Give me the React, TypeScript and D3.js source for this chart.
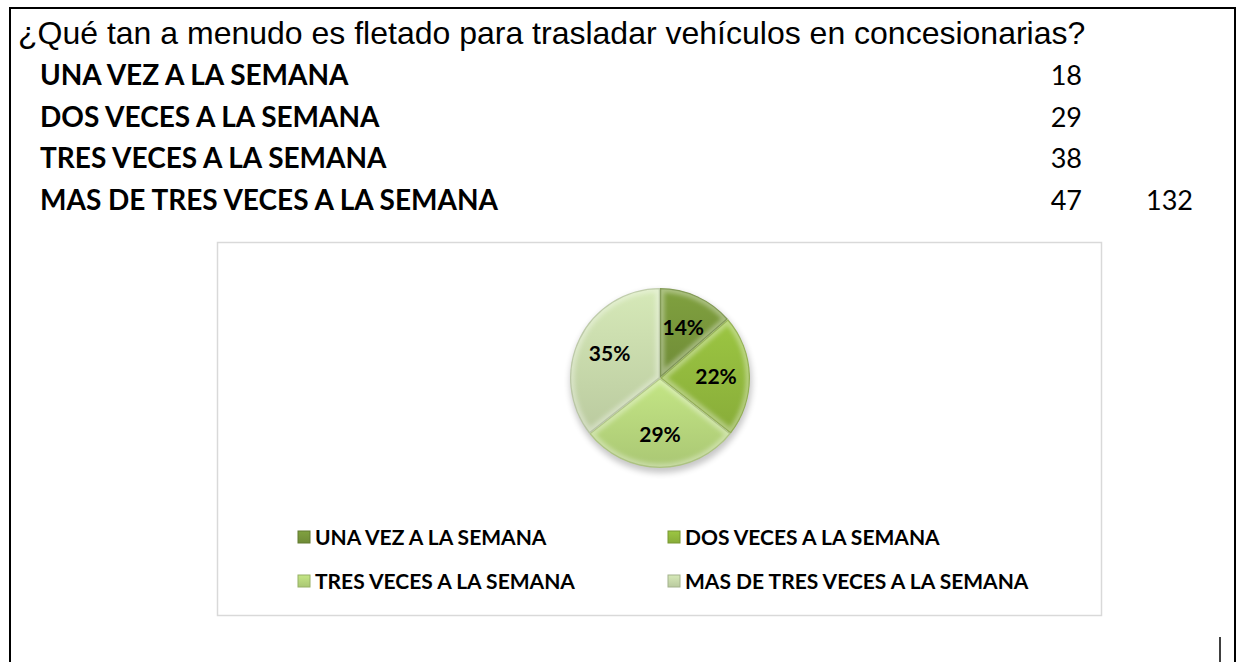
import React, { useEffect, useRef } from "react";
import * as d3 from "d3";

const title = "¿Qué tan a menudo es fletado para trasladar vehículos en concesionarias?";
const categories = [
  "UNA VEZ A LA SEMANA",
  "DOS VECES A LA SEMANA",
  "TRES VECES A LA SEMANA",
  "MAS DE TRES VECES A LA SEMANA",
];
const counts = [18, 29, 38, 47];
const total = 132;
const pctLabels = ["14%", "22%", "29%", "35%"];
const colors = ["#75933a", "#8fb53c", "#b3d27a", "#c4d5a8"];

const App = () => {
  const svgRef = useRef<SVGSVGElement>(null);

  useEffect(() => {
    const svg = d3.select(svgRef.current);
    svg.selectAll("*").remove();

    const width = 1243;
    const height = 662;
    const calibri = "Lato, 'Open Sans', sans-serif";

    svg.attr("width", width).attr("height", height).attr("viewBox", [0, 0, width, height]);

    const defs = svg.append("defs");
    defs.append("filter").attr("id", "soft").attr("x", "-20%").attr("y", "-20%").attr("width", "140%").attr("height", "140%")
      .append("feGaussianBlur").attr("stdDeviation", 2.2);
    defs.append("filter").attr("id", "shadow").attr("x", "-20%").attr("y", "-20%").attr("width", "140%").attr("height", "140%")
      .append("feGaussianBlur").attr("stdDeviation", 3);

    // page border (document frame)
    svg.append("path")
      .attr("d", "M10,662 V8 H1235 V662")
      .attr("fill", "none")
      .attr("stroke", "#000")
      .attr("stroke-width", 2);
    // text cursor
    svg.append("line").attr("x1", 1220).attr("x2", 1220).attr("y1", 637).attr("y2", 662)
      .attr("stroke", "#000").attr("stroke-width", 1.5);

    svg.append("text")
      .attr("x", 18).attr("y", 44)
      .attr("font-family", "'Liberation Sans', Arial, sans-serif")
      .attr("font-size", 32)
      .attr("fill", "#000")
      .text(title);

    // header table
    const rowY = d3.scalePoint<number>().domain(d3.range(categories.length)).range([85, 210]);
    const table = svg.append("g").attr("font-family", calibri).attr("fill", "#000");
    table.selectAll("text.cat").data(categories).join("text")
      .attr("class", "cat")
      .attr("x", 40).attr("y", (_, i) => rowY(i)!)
      .attr("font-size", 28).attr("font-weight", 700)
      .text(d => d);
    table.selectAll("text.val").data(counts).join("text")
      .attr("class", "val")
      .attr("x", 1082).attr("y", (_, i) => rowY(i)!)
      .attr("text-anchor", "end")
      .attr("font-size", 27)
      .text(d => d);
    table.append("text")
      .attr("x", 1193).attr("y", rowY(3)!)
      .attr("text-anchor", "end")
      .attr("font-size", 27)
      .text(total);

    // chart area
    svg.append("rect")
      .attr("x", 217.5).attr("y", 242.5).attr("width", 884).attr("height", 373)
      .attr("fill", "#fff").attr("stroke", "#d9d9d9").attr("stroke-width", 1.5);

    const cx = 660, cy = 378, r = 90;
    const pie = d3.pie<number>().sort(null).value(d => d);
    const arcs = pie(counts);
    const arc = d3.arc<d3.PieArcDatum<number>>().innerRadius(0).outerRadius(r);
    const labelArc = d3.arc<d3.PieArcDatum<number>>().innerRadius(56).outerRadius(56);

    const g = svg.append("g").attr("transform", `translate(${cx},${cy})`);
    g.append("circle").attr("cx", 1).attr("cy", 4).attr("r", r + 1)
      .attr("fill", "#000").attr("opacity", 0.22).attr("filter", "url(#shadow)");

    arcs.forEach((a, i) => {
      defs.append("clipPath").attr("id", `slice-${i}`)
        .append("path").attr("d", arc(a)!);
      const grad = defs.append("linearGradient").attr("id", `grad-${i}`)
        .attr("x1", 0).attr("y1", 0).attr("x2", 0).attr("y2", 1);
      grad.append("stop").attr("offset", 0).attr("stop-color", d3.color(colors[i])!.brighter(0.25).formatHex());
      grad.append("stop").attr("offset", 1).attr("stop-color", d3.color(colors[i])!.darker(0.15).formatHex());

      const sg = g.append("g").attr("clip-path", `url(#slice-${i})`);
      sg.append("path").attr("d", arc(a)!).attr("fill", `url(#grad-${i})`);
      // bevel highlight and edge shading
      sg.append("path").attr("d", arc(a)!)
        .attr("fill", "none").attr("stroke", "#fff").attr("stroke-opacity", 0.35)
        .attr("stroke-width", 9).attr("filter", "url(#soft)");
      sg.append("path").attr("d", arc(a)!)
        .attr("fill", "none").attr("stroke", d3.color(colors[i])!.darker(0.6).formatHex())
        .attr("stroke-opacity", 0.5).attr("stroke-width", 2.5);
    });

    g.selectAll("text.pct").data(arcs).join("text")
      .attr("class", "pct")
      .attr("transform", d => `translate(${labelArc.centroid(d)})`)
      .attr("text-anchor", "middle").attr("dy", "0.36em")
      .attr("font-family", calibri).attr("font-weight", 700).attr("font-size", 21)
      .attr("fill", "#000")
      .text((_, i) => pctLabels[i]);

    // legend
    const legX = d3.scalePoint<number>().domain([0, 1]).range([298, 668]);
    const legY = d3.scalePoint<number>().domain([0, 1]).range([537, 581]);
    const leg = svg.append("g").selectAll("g").data(categories).join("g")
      .attr("transform", (_, i) => `translate(${legX(i % 2)},${legY(Math.floor(i / 2))})`);
    leg.append("rect").attr("x", 0).attr("y", -6).attr("width", 12).attr("height", 12)
      .attr("fill", (_, i) => `url(#grad-${i})`)
      .attr("stroke", (_, i) => d3.color(colors[i])!.darker(0.5).formatHex()).attr("stroke-width", 1);
    leg.append("text").attr("x", 17).attr("dy", "0.36em")
      .attr("font-family", calibri).attr("font-weight", 700).attr("font-size", 21)
      .attr("fill", "#000")
      .text(d => d);
  }, []);

  return <svg ref={svgRef} style={{ position: "absolute", left: 0, top: 0 }} />;
};

export default App;
